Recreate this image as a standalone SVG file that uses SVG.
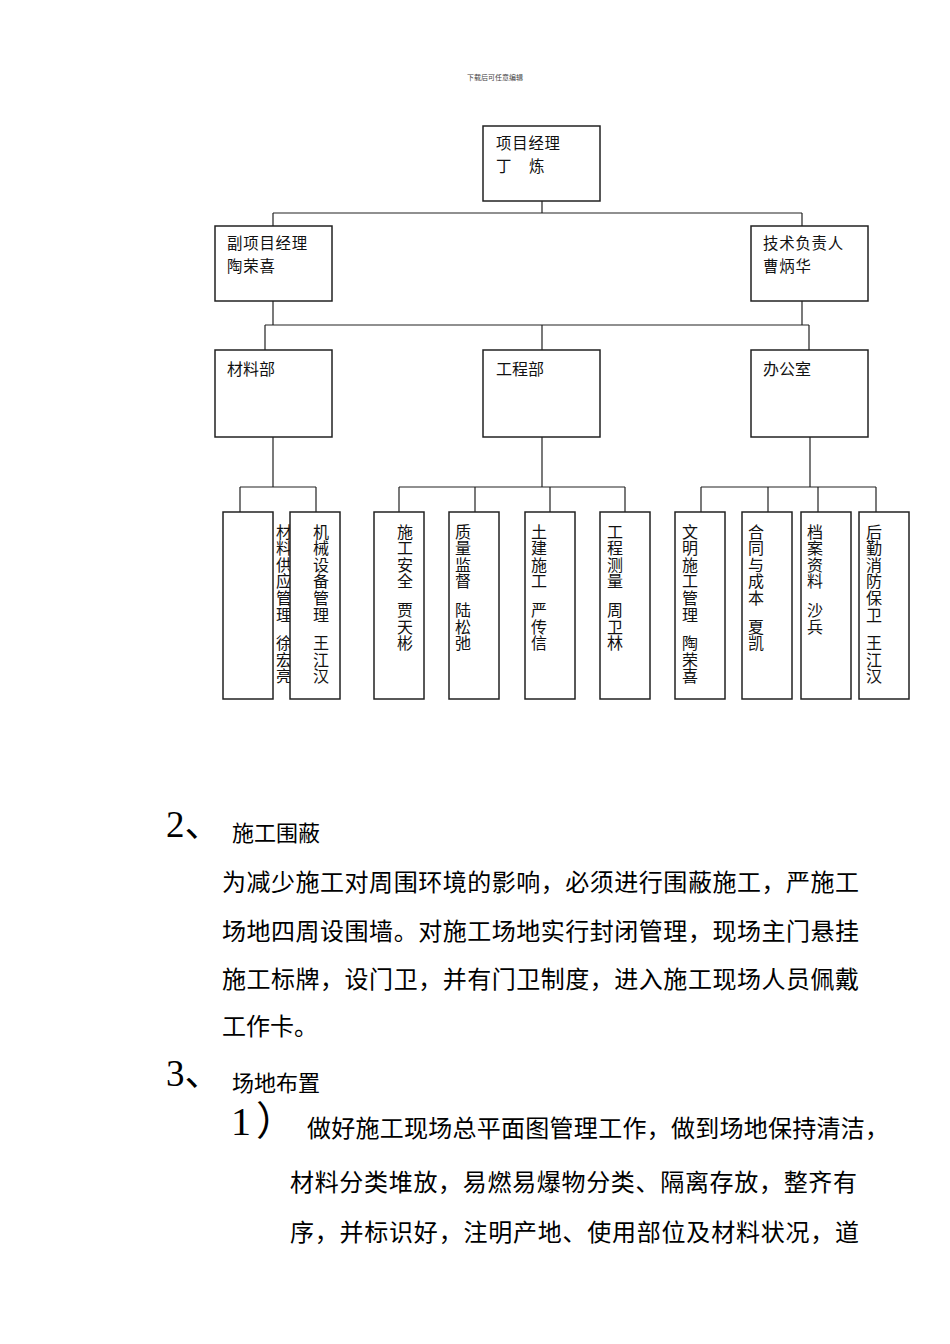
<svg xmlns="http://www.w3.org/2000/svg" width="950" height="1344" viewBox="0 0 950 1344">
<style>
.box{fill:#fff;stroke:#222;stroke-width:1.5}
.ln{fill:none;stroke:#222;stroke-width:1.2}
.lbl{font-family:"Noto Sans CJK SC","Noto Sans",sans-serif;font-size:16px;fill:#111}
.l2{font-family:"Noto Sans CJK SC","Noto Sans",sans-serif;font-size:15.4px;letter-spacing:0.8px;fill:#111}
.v{font-family:"Noto Sans CJK SC","Noto Sans",sans-serif;font-size:16px;fill:#111;text-anchor:middle}
.hd{font-family:"Noto Sans CJK SC",sans-serif;font-size:7px;fill:#444}
.body{font-family:"Noto Sans CJK SC","Noto Sans",sans-serif;font-size:24px;fill:#000}
.h2{font-family:"Noto Sans CJK SC","Noto Sans",sans-serif;font-size:22px;fill:#000}
.num{font-family:"Liberation Serif","Noto Sans CJK SC",serif;font-size:37px;fill:#000}
</style>
<rect width="950" height="1344" fill="#fff"/>
<text class="hd" x="467" y="80">下载后可任意编辑</text>

<g id="connectors">
<path class="ln" d="M542 201V213M273 213H802M273 213V226M802 213V226"/>
<path class="ln" d="M273 301V325M802 301V325M265 325H809M265 325V350M542 325V350M809 325V350"/>
<path class="ln" d="M273 437V487M240 487H316M240 487V512M316 487V512"/>
<path class="ln" d="M542 437V487M399 487H625M399 487V512M475 487V512M550 487V512M625 487V512"/>
<path class="ln" d="M810 437V487M701 487H876M701 487V512M768 487V512M818 487V512M876 487V512"/>
</g>

<g id="n-pm"><rect class="box" x="483" y="126" width="117" height="75"/>
<text class="l2" x="496" y="149">项目经理</text>
<text class="l2" x="496" y="171.5">丁 <tspan x="529">炼</tspan></text></g>

<g id="n-dpm"><rect class="box" x="215" y="226" width="117" height="75"/>
<text class="l2" x="227" y="249">副项目经理</text>
<text class="l2" x="227" y="271.5">陶荣喜</text></g>

<g id="n-tech"><rect class="box" x="751" y="226" width="117" height="75"/>
<text class="l2" x="763" y="249">技术负责人</text>
<text class="l2" x="763" y="271.5">曹炳华</text></g>

<g id="n-mat"><rect class="box" x="215" y="350" width="117" height="87"/>
<text class="lbl" x="227" y="375">材料部</text></g>

<g id="n-eng"><rect class="box" x="483" y="350" width="117" height="87"/>
<text class="lbl" x="496" y="375">工程部</text></g>

<g id="n-off"><rect class="box" x="751" y="350" width="117" height="87"/>
<text class="lbl" x="763" y="375">办公室</text></g>

<g id="n-mat1"><rect class="box" x="223" y="512" width="50" height="187"/>
<text class="v" x="284 284 284 284 284 284 284 284 284 284" y="537.5 554.1 570.7 587.3 603.9 620.5 634.8 649.1 665.7 682.3">材料供应管理 徐宏亮</text></g>

<g id="n-mat2"><rect class="box" x="290" y="512" width="50" height="187"/>
<text class="v" x="321 321 321 321 321 321 321 321 321 321" y="537.5 554.1 570.7 587.3 603.9 620.5 634.8 649.1 665.7 682.3">机械设备管理 王江汉</text></g>

<g id="n-eng1"><rect class="box" x="374" y="512" width="50" height="187"/>
<text class="v" x="405 405 405 405 405 405 405 405" y="537.5 554.1 570.7 587.3 601.6 615.9 632.5 649.1">施工安全 贾天彬</text></g>

<g id="n-eng2"><rect class="box" x="449" y="512" width="50" height="187"/>
<text class="v" x="463 463 463 463 463 463 463 463" y="537.5 554.1 570.7 587.3 601.6 615.9 632.5 649.1">质量监督 陆松弛</text></g>

<g id="n-eng3"><rect class="box" x="525" y="512" width="50" height="187"/>
<text class="v" x="539 539 539 539 539 539 539 539" y="537.5 554.1 570.7 587.3 601.6 615.9 632.5 649.1">土建施工 严传信</text></g>

<g id="n-eng4"><rect class="box" x="600" y="512" width="50" height="187"/>
<text class="v" x="615 615 615 615 615 615 615 615" y="537.5 554.1 570.7 587.3 601.6 615.9 632.5 649.1">工程测量 周卫林</text></g>

<g id="n-off1"><rect class="box" x="675" y="512" width="50" height="187"/>
<text class="v" x="690 690 690 690 690 690 690 690 690 690" y="537.5 554.1 570.7 587.3 603.9 620.5 634.8 649.1 665.7 682.3">文明施工管理 陶荣喜</text></g>

<g id="n-off2"><rect class="box" x="742" y="512" width="50" height="187"/>
<text class="v" x="756 756 756 756 756 756 756 756" y="537.5 554.1 570.7 587.3 603.9 618.2 632.5 649.1">合同与成本 夏凯</text></g>

<g id="n-off3"><rect class="box" x="801" y="512" width="50" height="187"/>
<text class="v" x="815 815 815 815 815 815 815" y="537.5 554.1 570.7 587.3 601.6 615.9 632.5">档案资料 沙兵</text></g>

<g id="n-off4"><rect class="box" x="859" y="512" width="50" height="187"/>
<text class="v" x="874 874 874 874 874 874 874 874 874 874" y="537.5 554.1 570.7 587.3 603.9 620.5 634.8 649.1 665.7 682.3">后勤消防保卫 王江汉</text></g>

<text class="num" x="166" y="837">2、</text>
<text class="h2" x="232" y="841">施工围蔽</text>
<text class="body" x="222" y="891" textLength="637" lengthAdjust="spacing">为减少施工对周围环境的影响，必须进行围蔽施工，严施工</text>
<text class="body" x="222" y="940" textLength="637" lengthAdjust="spacing">场地四周设围墙。对施工场地实行封闭管理，现场主门悬挂</text>
<text class="body" x="222" y="988" textLength="637" lengthAdjust="spacing">施工标牌，设门卫，并有门卫制度，进入施工现场人员佩戴</text>
<text class="body" x="222" y="1035">工作卡。</text>

<text class="num" x="166" y="1086">3、</text>
<text class="h2" x="232" y="1091">场地布置</text>
<text class="num" x="231" y="1135" style="font-size:40px">1<tspan x="256">）</tspan></text>
<text class="body" x="307" y="1137" textLength="582" lengthAdjust="spacing">做好施工现场总平面图管理工作，做到场地保持清洁，</text>
<text class="body" x="290" y="1191" textLength="567" lengthAdjust="spacing">材料分类堆放，易燃易爆物分类、隔离存放，整齐有</text>
<text class="body" x="290" y="1241" textLength="569" lengthAdjust="spacing">序，并标识好，注明产地、使用部位及材料状况，道</text>
</svg>
